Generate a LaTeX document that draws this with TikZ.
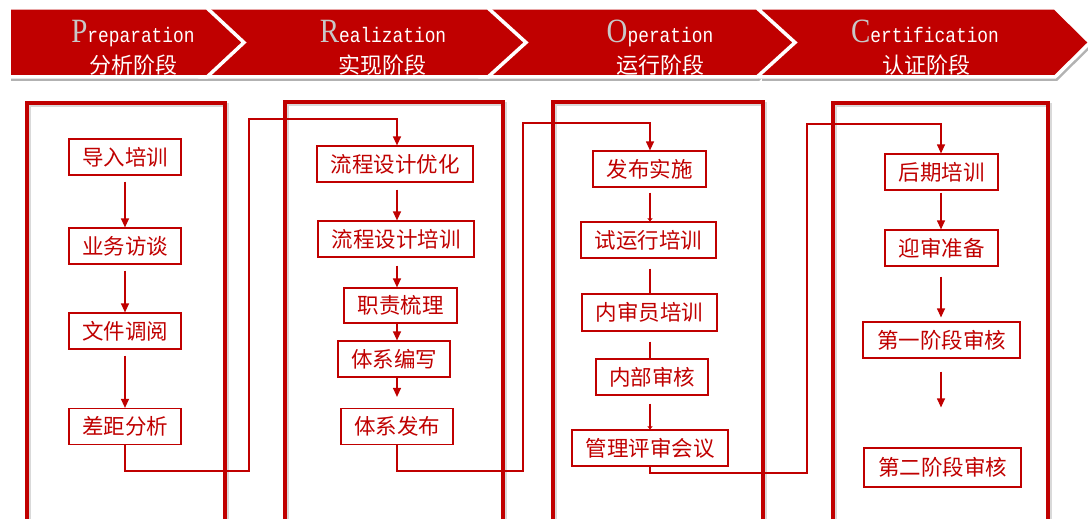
\documentclass[tikz,border=0pt]{standalone}
\usepackage{fontspec}
\setmainfont{Liberation Serif}
\newfontfamily\cjk{Noto Sans CJK SC}
\newfontfamily\monof{Liberation Mono}
\usetikzlibrary{arrows.meta}
\definecolor{dred}{HTML}{C00000}
\definecolor{bgray}{HTML}{C8C8C8}
\newcommand\bigini[1]{{\color{bgray}\rmfamily\fontsize{34}{34}\selectfont #1}}
\newcommand\restw[1]{{\color{white}\monof\fontsize{21}{21}\selectfont #1}}
\begin{document}
\begin{tikzpicture}[x=1pt,y=-1pt,
  stepbox/.style={draw=dred, line width=1.2pt, text=dred,
    font=\cjk\fontsize{21.5}{23}\selectfont, minimum height=36pt, inner sep=0pt},
  bigbox/.style={draw=dred, line width=4pt},
  bigshadow/.style={draw=black!15, line width=4pt},
  chev/.style={fill=dred, draw=white, line width=3.5pt, line join=miter},
  chevshadow/.style={fill=black!30},
  arr/.style={draw=dred, line width=1.2pt, -{Triangle[width=8pt,length=9pt]}},
  arrs/.style={draw=dred, line width=1.2pt, -{Triangle[width=5pt,length=3pt]}},
  ln/.style={draw=dred, line width=1.2pt},
  conn/.style={draw=dred, line width=1.1pt, rounded corners=0pt},
  title/.style={anchor=base, inner sep=0pt},
  sub/.style={text=white, font=\cjk\fontsize{22}{22}\selectfont, inner sep=0pt}]
\fill[white] (0,0) rectangle (1088,519);
\useasboundingbox (0,0) rectangle (1088,519);

% ---------- banner ----------
\foreach \l/\s/\t in {760/1055/1090, 480/757/795, 200/488/526, 9/207/244}{
  \fill[chevshadow] (\l+2,12) -- (\s+2,12) -- (\t+2,46.5) -- (\s+2,81) -- (\l+2,81) -- cycle;
}
\draw[chev] (760,8) -- (1055,8) -- (1090,42.5) -- (1055,77) -- (760,77) -- cycle;
\draw[chev] (480,8) -- (757,8) -- (795,42.5) -- (757,77) -- (480,77) -- cycle;
\draw[chev] (200,8) -- (488,8) -- (526,42.5) -- (488,77) -- (200,77) -- cycle;
\draw[chev] (9,8) -- (207,8) -- (244,42.5) -- (207,77) -- (9,77) -- cycle;

\node[title] (t1) at (133,43) {\scalebox{0.85}[1]{\bigini{P}\restw{reparation}}};
\node[title] (t2) at (383,43) {\scalebox{0.85}[1]{\bigini{R}\restw{ealization}}};
\node[title] (t3) at (660,43) {\scalebox{0.85}[1]{\bigini{O}\restw{peration}}};
\node[title] (t4) at (925,43) {\scalebox{0.85}[1]{\bigini{C}\restw{ertification}}};
\node[sub] (s1) at (133,65) {分析阶段};
\node[sub] (s2) at (382,65) {实现阶段};
\node[sub] (s3) at (660,65) {运行阶段};
\node[sub] (s4) at (926,65) {认证阶段};

% ---------- big frames ----------
\draw[bigshadow] (29,105) rectangle (227,545);
\draw[bigshadow] (287,104) rectangle (505,545);
\draw[bigshadow] (555,104) rectangle (765,545);
\draw[bigshadow] (835,105) rectangle (1050,545);
\draw[bigbox] (27,103) rectangle (225,545);
\draw[bigbox] (285,102) rectangle (503,545);
\draw[bigbox] (553,102) rectangle (763,545);
\draw[bigbox] (833,103) rectangle (1048,545);

% ---------- column 1 ----------
\node[stepbox, minimum width=112pt] (n11) at (125,157) {导入培训};
\node[stepbox, minimum width=112pt] (n12) at (125,246) {业务访谈};
\node[stepbox, minimum width=112pt] (n13) at (125,331) {文件调阅};
\node[stepbox, minimum width=112pt] (n14) at (125,426.5) {差距分析};

% ---------- column 2 ----------
\node[stepbox, minimum width=156pt] (n21) at (395,164) {流程设计优化};
\node[stepbox, minimum width=156pt] (n22) at (396,239) {流程设计培训};
\node[stepbox, minimum width=113pt, minimum height=35pt] (n23) at (400.5,305.5) {职责梳理};
\node[stepbox, minimum width=112pt] (n24) at (394,359) {体系编写};
\node[stepbox, minimum width=112pt] (n25) at (397,426.5) {体系发布};

% ---------- column 3 ----------
\node[stepbox, minimum width=113pt] (n31) at (649.5,169) {发布实施};
\node[stepbox, minimum width=135pt] (n32) at (648.5,240) {试运行培训};
\node[stepbox, minimum width=135pt, minimum height=37pt] (n33) at (649.5,312.5) {内审员培训};
\node[stepbox, minimum width=112pt] (n34) at (652,377) {内部审核};
\node[stepbox, minimum width=156pt] (n35) at (650,448) {管理评审会议};

% ---------- column 4 ----------
\node[stepbox, minimum width=113pt] (n41) at (941.5,172) {后期培训};
\node[stepbox, minimum width=113pt] (n42) at (941.5,248) {迎审准备};
\node[stepbox, minimum width=157pt] (n43) at (941.5,340) {第一阶段审核};
\node[stepbox, minimum width=157pt, minimum height=39pt] (n44) at (942.5,467.5) {第二阶段审核};

% column x positions
\coordinate (x1) at (125,0);
\coordinate (x2) at (397,0);
\coordinate (x3) at (650,0);
\coordinate (x4) at (941,0);

% ---------- arrows within columns ----------
\draw[arr, shorten <=6pt] (n11.south -| x1) -- (n12.north -| x1);
\draw[arr, shorten <=6pt] (n12.south -| x1) -- (n13.north -| x1);
\draw[arr, shorten <=6pt] (n13.south -| x1) -- (n14.north -| x1);

\draw[arr, shorten <=7pt] (n21.south -| x2) -- (n22.north -| x2);
\draw[arr, shorten <=8pt] (n22.south -| x2) -- (n23.north -| x2);
\draw[arr] (n23.south -| x2) -- (n24.north -| x2);
\draw[arr, shorten >=11pt] (n24.south -| x2) -- (n25.north -| x2);

\draw[arrs, shorten <=5pt] (n31.south -| x3) -- (n32.north -| x3);
\draw[ln, shorten <=10pt] (n32.south -| x3) -- (n33.north -| x3);
\draw[ln, shorten <=10pt] (n33.south -| x3) -- (n34.north -| x3);
\draw[arrs, shorten <=8pt] (n34.south -| x3) -- (n35.north -| x3);

\draw[arr, shorten <=2pt] (n41.south -| x4) -- (n42.north -| x4);
\draw[arr, shorten <=10pt, shorten >=4pt] (n42.south -| x4) -- (n43.north -| x4);
\draw[arr, shorten <=13pt, shorten >=40pt] (n43.south -| x4) -- (n44.north -| x4);

% ---------- connectors between columns ----------
\coordinate (j1a) at (249,471);
\coordinate (j1b) at (249,119);
\coordinate (j2a) at (523,471);
\coordinate (j2b) at (523,123);
\coordinate (j3a) at (807,473);
\coordinate (j3b) at (807,124);
\draw[conn, arr] (n14.south) |- (j1a) -- (j1b) -| (n21.north -| x2);
\draw[conn, arr] (n25.south) |- (j2a) -- (j2b) -| (n31.north -| x3);
\draw[conn, arr] (n35.south) |- (j3a) -- (j3b) -| (n41.north -| x4);
\end{tikzpicture}
\end{document}
